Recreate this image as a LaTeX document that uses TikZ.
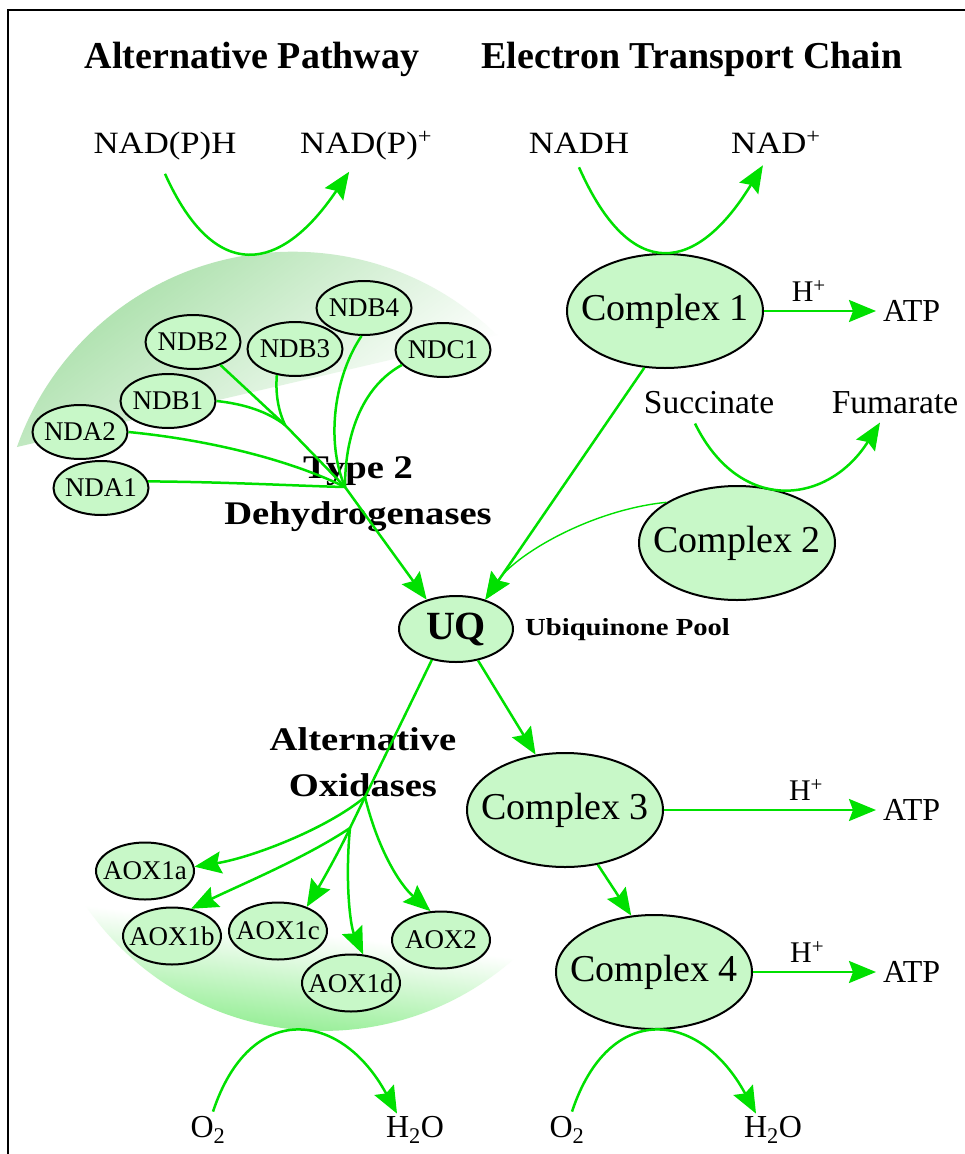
\documentclass[tikz,border=0pt]{standalone}
\usepackage{fontspec}
\setmainfont{Liberation Serif}
\newfontfamily\widefont{Liberation Serif}[FakeStretch=1.12]
\newfontfamily\bwidefont{Liberation Serif}[FakeStretch=1.17]
\usetikzlibrary{shapes.geometric,arrows.meta}
\definecolor{lgreen}{RGB}{0,224,0}
\definecolor{nodefill}{RGB}{200,248,200}
\definecolor{topgreen}{RGB}{176,226,176}
\definecolor{topmid}{RGB}{214,222,214}
\definecolor{botgreen}{RGB}{150,238,150}
\definecolor{botmid}{RGB}{204,212,204}
\tikzset{
  enz/.style={ellipse, draw=black, line width=2pt, fill=nodefill, inner xsep=-20pt, inner ysep=0pt},
  cplx/.style={enz, minimum width=196pt, minimum height=114pt, font=\fontsize{38}{40}\selectfont},
  ndnode/.style={enz, minimum width=95pt, minimum height=54pt, font=\fontsize{27}{29}\selectfont},
  aoxnode/.style={enz, minimum width=98pt, minimum height=57pt, font=\fontsize{27}{29}\selectfont},
  uqnode/.style={enz, minimum width=114pt, minimum height=66pt, font=\fontsize{40}{42}\selectfont\bfseries},
  headtxt/.style={inner sep=0pt, font=\fontsize{38}{42}\selectfont\bfseries},
  grouplab/.style={inner sep=0pt, align=center, font=\bwidefont\bfseries\fontsize{33}{46}\selectfont},
  poollab/.style={inner sep=0pt, font=\bwidefont\bfseries\fontsize{24.5}{26}\selectfont},
  nadtxt/.style={inner sep=0pt, font=\widefont\fontsize{31}{33}\selectfont},
  subtxt/.style={inner sep=0pt, font=\fontsize{33.5}{35}\selectfont},
  hlab/.style={inner sep=0pt, font=\fontsize{30}{32}\selectfont},
  atptxt/.style={inner sep=0pt, inner xsep=7pt, anchor=west, font=\fontsize{32}{34}\selectfont},
  otxt/.style={inner sep=0pt, font=\fontsize{32}{34}\selectfont},
  flow/.style={draw=lgreen, line width=2.5pt},
  arr/.style={flow, -{Stealth[length=27pt,width=22pt,inset=4pt]}},
}
\begin{document}
\begin{tikzpicture}[x=1pt,y=1pt]
\useasboundingbox (0,0) rectangle (965,-1154);
\fill[white] (0,0) rectangle (965,-1154);
% frame
\draw[line width=2.4pt] (8,-1154) -- (8,-10) -- (965,-10);

% upper shaded region
\begin{scope}
  \clip (292.7,-543.9) circle (292.2);
  \clip (17,-447) -- (497,-335) -- (452,-140) -- (-28,-252) -- cycle;
  \begin{scope}[transform canvas={rotate=36.87}]
    \shade[top color=topgreen, middle color=topmid, bottom color=white] (-280,-570) rectangle (220,-314);
  \end{scope}
\end{scope}
% lower shaded region
\begin{scope}
  \clip (323.3,-742.5) circle (288.4);
  \begin{scope}[transform canvas={shift={(85,-905)}, rotate=-7.03}]
    \shade[top color=white, middle color=botmid, bottom color=botgreen] (-20,0) rectangle (460,-100);
  \end{scope}
\end{scope}

% titles
\node[headtxt, anchor=base] (t1) at (252,-68) {Alternative Pathway};
\node[headtxt, anchor=base] (t2) at (692,-68) {Electron Transport Chain};

% substrates
\node[nadtxt, anchor=base] (nadph) at (165,-153) {NAD(P)H};
\node[nadtxt, anchor=base west] (nadpp) at (300,-153) {NAD(P)\textsuperscript{+}};
\node[nadtxt, anchor=base] (nadh) at (579,-153) {NADH};
\node[nadtxt, anchor=base west] (nadp) at (731,-153) {NAD\textsuperscript{+}};
\node[subtxt, anchor=base] (succ) at (709,-413) {Succinate};
\node[subtxt, anchor=base] (fum) at (895,-413) {Fumarate};
\node[otxt, anchor=base] (o2a) at (208,-1137) {O\textsubscript{2}};
\node[otxt, anchor=base] (h2oa) at (415,-1137) {H\textsubscript{2}O};
\node[otxt, anchor=base] (o2b) at (567,-1137) {O\textsubscript{2}};
\node[otxt, anchor=base] (h2ob) at (773,-1137) {H\textsubscript{2}O};

% complexes
\node[cplx] (c1) at (665,-311) {Complex 1};
\node[cplx] (c2) at (737,-543) {Complex 2};
\node[cplx] (c3) at (565,-810) {Complex 3};
\node[cplx] (c4) at (654,-972) {Complex 4};
\node[atptxt] (atp1) at (876,-311) {ATP};
\node[atptxt] (atp3) at (876,-810) {ATP};
\node[atptxt] (atp4) at (876,-972) {ATP};

% ubiquinone
\node[uqnode] (uq) at (456,-629) {UQ};
\node[poollab, anchor=base west] (uqlab) at (525,-635) {Ubiquinone Pool};

% type 2 dehydrogenases
\node[ndnode] (nda1) at (101,-488) {NDA1};
\node[ndnode] (nda2) at (80,-432) {NDA2};
\node[ndnode] (ndb1) at (168,-401) {NDB1};
\node[ndnode] (ndb2) at (193,-342) {NDB2};
\node[ndnode] (ndb3) at (295,-349) {NDB3};
\node[ndnode] (ndb4) at (364,-308) {NDB4};
\node[ndnode] (ndc1) at (443,-350) {NDC1};
\node[grouplab] (t2lab) at (358,-494) {Type 2\\Dehydrogenases};

% alternative oxidases
\node[aoxnode] (aox1a) at (145,-871) {AOX1a};
\node[aoxnode] (aox1b) at (172,-936) {AOX1b};
\node[aoxnode] (aox1c) at (278,-931) {AOX1c};
\node[aoxnode] (aox1d) at (351,-983) {AOX1d};
\node[aoxnode] (aox2) at (441,-940) {AOX2};
\node[grouplab] (aoxlab) at (363,-762) {Alternative\\Oxidases};

% junctions
\coordinate (K) at (285,-425);
\coordinate (J) at (345,-487);
\coordinate (J2) at (365,-797);
\coordinate (J3) at (350,-828);

% NAD(P)H / NADH / succinate / O2 reactions
\draw[arr] ([yshift=-14pt]nadph.south) .. controls (215,-285) and (281,-273) .. ([xshift=-17pt,yshift=-12pt]nadpp.south);
\draw[arr] ([yshift=-14pt]nadh.south) .. controls (631,-285) and (697,-273) .. ([xshift=-13pt,yshift=-12pt]nadp.south);
\draw[arr] ([xshift=-14pt,yshift=-10pt]succ.south) .. controls (740,-515) and (828,-505) .. ([xshift=-15pt,yshift=-9pt]fum.south);
\draw[arr] ([xshift=5pt,yshift=4pt]o2a.north) .. controls (250,-1000) and (341,-1010) .. ([xshift=-18pt,yshift=2pt]h2oa.north);
\draw[arr] ([xshift=5pt,yshift=4pt]o2b.north) .. controls (609,-1000) and (700,-1010) .. ([xshift=-17pt,yshift=2pt]h2ob.north);

% dehydrogenases to UQ
\draw[flow] (ndb2.-40) -- (K) -- (J);
\draw[flow] (ndb1.east) .. controls (245,-404) and (268,-412) .. (K);
\draw[flow] (ndb3.235) .. controls (275,-398) and (280,-414) .. (K);
\draw[flow] (nda1.8) .. controls (230,-482) and (300,-486) .. (J);
\draw[flow] (nda2.east) .. controls (210,-440) and (290,-460) .. (J);
\draw[flow] (ndb4.265) .. controls (335,-375) and (325,-440) .. (J);
\draw[flow] (ndc1.200) .. controls (365,-385) and (345,-430) .. (J);
\draw[arr] (J) -- (uq.135);

% complexes to UQ and chain
\draw[arr] (c1.250) -- (uq.45);
\draw[arr, line width=1.4pt] (c2.150) .. controls (590,-510) and (515,-555) .. (uq.45);
\draw[arr] (uq.-55) -- (c3.118);
\draw[arr] (c3.-59) -- (c4.112);
\draw[arr] (c1.east) -- node[hlab, above=8pt, pos=0.4] (h1) {H\textsuperscript{+}} (atp1.west);
\draw[arr] (c3.east) -- node[hlab, above=8pt, pos=0.67] (h3) {H\textsuperscript{+}} (atp3.west);
\draw[arr] (c4.east) -- node[hlab, above=8pt, pos=0.44] (h4) {H\textsuperscript{+}} (atp4.west);

% UQ to alternative oxidases
\draw[flow] (uq.232) -- (J2) -- (J3);
\draw[arr] (J2) .. controls (325,-830) and (250,-858) .. (aox1a.5);
\draw[arr] (J2) .. controls (378,-850) and (400,-885) .. (aox2.110);
\draw[arr] (J3) .. controls (305,-858) and (240,-885) .. (aox1b.55);
\draw[arr] (J3) .. controls (340,-850) and (320,-885) .. (aox1c.40);
\draw[arr] (J3) .. controls (345,-880) and (350,-925) .. (aox1d.67);
\end{tikzpicture}
\end{document}
